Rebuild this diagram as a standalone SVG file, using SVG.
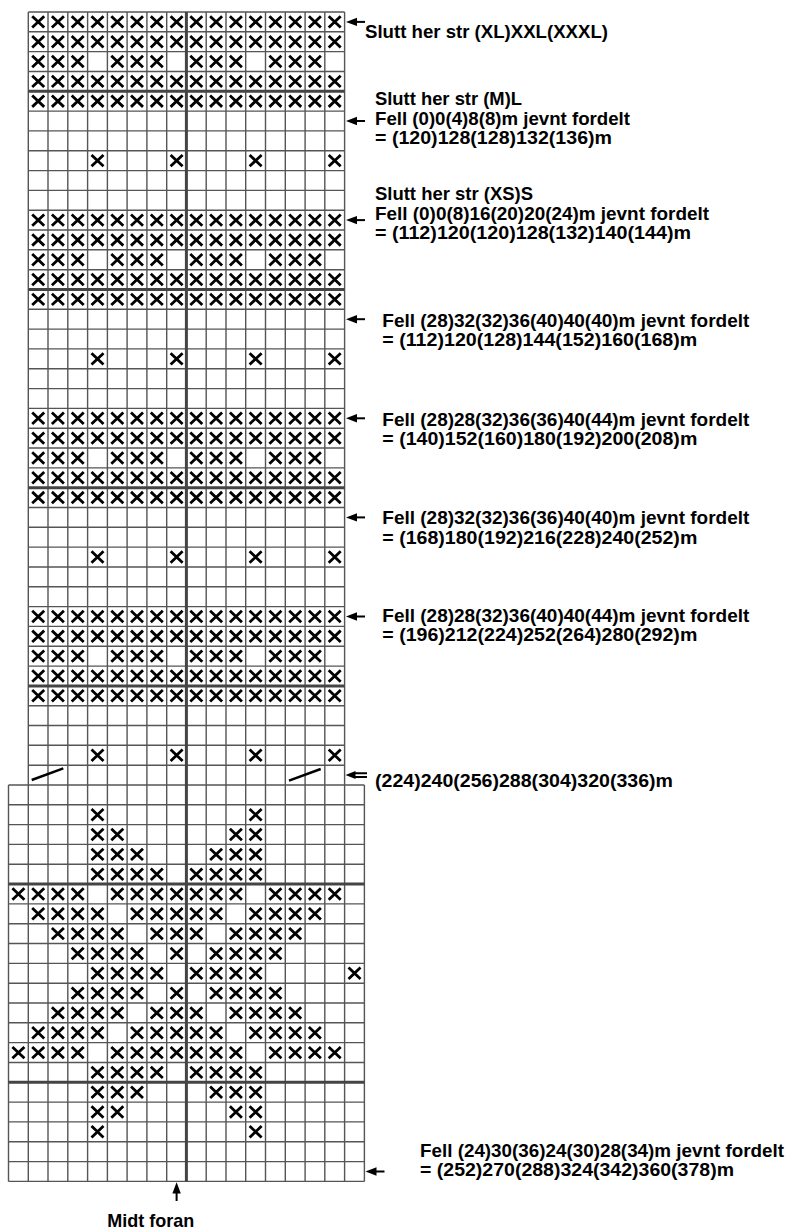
<svg xmlns="http://www.w3.org/2000/svg" width="790" height="1230" viewBox="0 0 790 1230">
<style>
.g{fill:none;stroke:#555;stroke-width:1.4}
.gt{fill:none;stroke:#444;stroke-width:3}
.x{fill:none;stroke:#000;stroke-width:2.8}
.t{font-family:"Liberation Sans",Arial,sans-serif;font-weight:bold;font-size:19px;fill:#000}
.ar{fill:#000;stroke:none}
.sh{fill:none;stroke:#000;stroke-width:2}
</style>
<defs>
<path id="x" class="x" d="M-6,-5.7L6,5.7M6,-5.7L-6,5.7"/>
<g id="rowAll"><use href="#x" x="38.2"/><use href="#x" x="57.9"/><use href="#x" x="77.7"/><use href="#x" x="97.5"/><use href="#x" x="117.3"/><use href="#x" x="137"/><use href="#x" x="156.8"/><use href="#x" x="176.6"/><use href="#x" x="196.3"/><use href="#x" x="216.1"/><use href="#x" x="235.9"/><use href="#x" x="255.6"/><use href="#x" x="275.4"/><use href="#x" x="295.2"/><use href="#x" x="314.9"/><use href="#x" x="334.7"/></g>
<g id="rowPat"><use href="#x" x="38.2"/><use href="#x" x="57.9"/><use href="#x" x="77.7"/><use href="#x" x="117.3"/><use href="#x" x="137"/><use href="#x" x="156.8"/><use href="#x" x="196.3"/><use href="#x" x="216.1"/><use href="#x" x="235.9"/><use href="#x" x="275.4"/><use href="#x" x="295.2"/><use href="#x" x="314.9"/></g>
<g id="rowSp"><use href="#x" x="97.5"/><use href="#x" x="176.6"/><use href="#x" x="255.6"/><use href="#x" x="334.7"/></g>
<g id="period"><use href="#rowAll" y="0"/><use href="#rowAll" y="19.82"/><use href="#rowPat" y="39.64"/><use href="#rowAll" y="59.46"/><use href="#rowAll" y="79.28"/><use href="#rowSp" y="138.74"/></g>
<g id="b40"><use href="#x" x="97.5"/><use href="#x" x="255.6"/></g>
<g id="b41"><use href="#x" x="97.5"/><use href="#x" x="117.3"/><use href="#x" x="235.9"/><use href="#x" x="255.6"/></g>
<g id="b42"><use href="#x" x="97.5"/><use href="#x" x="117.3"/><use href="#x" x="137"/><use href="#x" x="216.1"/><use href="#x" x="235.9"/><use href="#x" x="255.6"/></g>
<g id="b43"><use href="#x" x="97.5"/><use href="#x" x="117.3"/><use href="#x" x="137"/><use href="#x" x="156.8"/><use href="#x" x="196.3"/><use href="#x" x="216.1"/><use href="#x" x="235.9"/><use href="#x" x="255.6"/></g>
<g id="b44"><use href="#x" x="18.4"/><use href="#x" x="38.2"/><use href="#x" x="57.9"/><use href="#x" x="77.7"/><use href="#x" x="117.3"/><use href="#x" x="137"/><use href="#x" x="156.8"/><use href="#x" x="176.6"/><use href="#x" x="196.3"/><use href="#x" x="216.1"/><use href="#x" x="235.9"/><use href="#x" x="275.4"/><use href="#x" x="295.2"/><use href="#x" x="314.9"/><use href="#x" x="334.7"/></g>
<g id="b45"><use href="#x" x="38.2"/><use href="#x" x="57.9"/><use href="#x" x="77.7"/><use href="#x" x="97.5"/><use href="#x" x="137"/><use href="#x" x="156.8"/><use href="#x" x="176.6"/><use href="#x" x="196.3"/><use href="#x" x="216.1"/><use href="#x" x="255.6"/><use href="#x" x="275.4"/><use href="#x" x="295.2"/><use href="#x" x="314.9"/></g>
<g id="b46"><use href="#x" x="57.9"/><use href="#x" x="77.7"/><use href="#x" x="97.5"/><use href="#x" x="117.3"/><use href="#x" x="156.8"/><use href="#x" x="176.6"/><use href="#x" x="196.3"/><use href="#x" x="235.9"/><use href="#x" x="255.6"/><use href="#x" x="275.4"/><use href="#x" x="295.2"/></g>
<g id="b47"><use href="#x" x="77.7"/><use href="#x" x="97.5"/><use href="#x" x="117.3"/><use href="#x" x="137"/><use href="#x" x="176.6"/><use href="#x" x="216.1"/><use href="#x" x="235.9"/><use href="#x" x="255.6"/><use href="#x" x="275.4"/></g>
<g id="b48"><use href="#x" x="97.5"/><use href="#x" x="117.3"/><use href="#x" x="137"/><use href="#x" x="156.8"/><use href="#x" x="196.3"/><use href="#x" x="216.1"/><use href="#x" x="235.9"/><use href="#x" x="255.6"/><use href="#x" x="354.5"/></g>
<g id="arr"><path class="ar" d="M0,0L11,-4.2V4.2Z"/><path class="sh" d="M9,0H19"/></g>
</defs>
<rect width="790" height="1230" fill="#fff"/>
<g id="grid">
<path class="g" d="M28.3 12V785M48 12V785M67.8 12V785M87.6 12V785M107.4 12V785M127.1 12V785M146.9 12V785M166.7 12V785M206.2 12V785M226 12V785M245.7 12V785M265.5 12V785M285.3 12V785M305.1 12V785M324.8 12V785M344.6 12V785"/>
<path class="g" d="M8.5 785V1181.4M28.3 785V1181.4M48 785V1181.4M67.8 785V1181.4M87.6 785V1181.4M107.4 785V1181.4M127.1 785V1181.4M146.9 785V1181.4M166.7 785V1181.4M206.2 785V1181.4M226 785V1181.4M245.7 785V1181.4M265.5 785V1181.4M285.3 785V1181.4M305.1 785V1181.4M324.8 785V1181.4M344.6 785V1181.4M364.4 785V1181.4"/>
<path class="g" d="M28.3 12H344.6M28.3 31.8H344.6M28.3 51.6H344.6M28.3 71.5H344.6M28.3 111.1H344.6M28.3 130.9H344.6M28.3 150.7H344.6M28.3 170.6H344.6M28.3 190.4H344.6M28.3 210.2H344.6M28.3 230H344.6M28.3 249.8H344.6M28.3 269.7H344.6M28.3 309.3H344.6M28.3 329.1H344.6M28.3 348.9H344.6M28.3 368.8H344.6M28.3 388.6H344.6M28.3 408.4H344.6M28.3 428.2H344.6M28.3 448H344.6M28.3 467.9H344.6M28.3 507.5H344.6M28.3 527.3H344.6M28.3 547.1H344.6M28.3 567H344.6M28.3 586.8H344.6M28.3 606.6H344.6M28.3 626.4H344.6M28.3 646.2H344.6M28.3 666.1H344.6M28.3 705.7H344.6M28.3 725.5H344.6M28.3 745.3H344.6M28.3 765.2H344.6"/>
<path class="g" d="M8.5 785H364.4M8.5 804.8H364.4M8.5 824.6H364.4M8.5 844.4H364.4M8.5 864.3H364.4M8.5 903.9H364.4M8.5 923.7H364.4M8.5 943.5H364.4M8.5 963.4H364.4M8.5 983.2H364.4M8.5 1003H364.4M8.5 1022.8H364.4M8.5 1042.6H364.4M8.5 1062.5H364.4M8.5 1102.1H364.4M8.5 1121.9H364.4M8.5 1141.7H364.4M8.5 1161.6H364.4M8.5 1181.4H364.4"/>
<path class="gt" d="M28.3 91.3H344.6M28.3 289.5H344.6M28.3 487.7H344.6M28.3 685.9H344.6M8.5 884.1H364.4M8.5 1082.3H364.4"/>
<path class="gt" stroke-width="2.6" d="M186.4 12V1181.4"/>
</g>
<g id="stitches">
<use href="#period" y="21.9"/>
<use href="#period" y="220.1"/>
<use href="#period" y="418.3"/>
<use href="#period" y="616.5"/>
<path d="M31.7 780L63.3 768.3M289 780.7L320.7 769" fill="none" stroke="#000" stroke-width="2.4"/>
<use href="#b40" y="814.7"/>
<use href="#b41" y="834.5"/>
<use href="#b42" y="854.4"/>
<use href="#b43" y="874.2"/>
<use href="#b44" y="894"/>
<use href="#b45" y="913.8"/>
<use href="#b46" y="933.6"/>
<use href="#b47" y="953.5"/>
<use href="#b48" y="973.3"/>
<use href="#b47" y="993.1"/>
<use href="#b46" y="1012.9"/>
<use href="#b45" y="1032.7"/>
<use href="#b44" y="1052.6"/>
<use href="#b43" y="1072.4"/>
<use href="#b42" y="1092.2"/>
<use href="#b41" y="1112"/>
<use href="#b40" y="1131.8"/>
</g>
<g id="connectors">
<use href="#arr" x="346" y="21.9"/>
<use href="#arr" x="346" y="121"/>
<use href="#arr" x="346" y="220.1"/>
<use href="#arr" x="346" y="319.2"/>
<use href="#arr" x="346" y="418.3"/>
<use href="#arr" x="346" y="517.4"/>
<use href="#arr" x="346" y="616.5"/>
<path class="ar" d="M345.5 775.1L355.5 771.1V779.1Z"/>
<path class="sh" d="M353 773.2H367M353 777H367"/>
<use href="#arr" x="365.5" y="1171.5"/>
<path class="ar" d="M176.6 1182.3L172.4 1193.5H180.8Z"/>
<path class="sh" d="M176.6 1191V1201"/>
</g>
<g id="labels">
<text class="t" x="365" y="38.3" textLength="243" lengthAdjust="spacingAndGlyphs">Slutt her str (XL)XXL(XXXL)</text>
<text class="t" x="375" y="105.2" textLength="147" lengthAdjust="spacingAndGlyphs">Slutt her str (M)L</text>
<text class="t" x="375" y="124.6" textLength="255" lengthAdjust="spacingAndGlyphs">Fell (0)0(4)8(8)m jevnt fordelt</text>
<text class="t" x="375" y="143.7" textLength="237" lengthAdjust="spacingAndGlyphs">= (120)128(128)132(136)m</text>
<text class="t" x="375" y="200" textLength="158" lengthAdjust="spacingAndGlyphs">Slutt her str (XS)S</text>
<text class="t" x="375" y="219.5" textLength="334" lengthAdjust="spacingAndGlyphs">Fell (0)0(8)16(20)20(24)m jevnt fordelt</text>
<text class="t" x="375" y="238.5" textLength="316" lengthAdjust="spacingAndGlyphs">= (112)120(120)128(132)140(144)m</text>
<text class="t" x="382.3" y="326.7" textLength="367" lengthAdjust="spacingAndGlyphs">Fell (28)32(32)36(40)40(40)m jevnt fordelt</text>
<text class="t" x="382.3" y="345.7" textLength="315" lengthAdjust="spacingAndGlyphs">= (112)120(128)144(152)160(168)m</text>
<text class="t" x="382.3" y="425.7" textLength="367" lengthAdjust="spacingAndGlyphs">Fell (28)28(32)36(36)40(44)m jevnt fordelt</text>
<text class="t" x="382.3" y="445" textLength="315" lengthAdjust="spacingAndGlyphs">= (140)152(160)180(192)200(208)m</text>
<text class="t" x="382.3" y="524.3" textLength="367" lengthAdjust="spacingAndGlyphs">Fell (28)32(32)36(36)40(40)m jevnt fordelt</text>
<text class="t" x="382.3" y="544" textLength="315" lengthAdjust="spacingAndGlyphs">= (168)180(192)216(228)240(252)m</text>
<text class="t" x="382.3" y="621.7" textLength="367" lengthAdjust="spacingAndGlyphs">Fell (28)28(32)36(40)40(44)m jevnt fordelt</text>
<text class="t" x="382.3" y="641" textLength="315" lengthAdjust="spacingAndGlyphs">= (196)212(224)252(264)280(292)m</text>
<text class="t" x="375" y="786.5" textLength="298" lengthAdjust="spacingAndGlyphs">(224)240(256)288(304)320(336)m</text>
<text class="t" x="420" y="1157.3" textLength="364" lengthAdjust="spacingAndGlyphs">Fell (24)30(36)24(30)28(34)m jevnt fordelt</text>
<text class="t" x="420" y="1176" textLength="314" lengthAdjust="spacingAndGlyphs">= (252)270(288)324(342)360(378)m</text>
<text class="t" x="107.3" y="1227.3" textLength="87" lengthAdjust="spacingAndGlyphs">Midt foran</text>
</g>
</svg>
